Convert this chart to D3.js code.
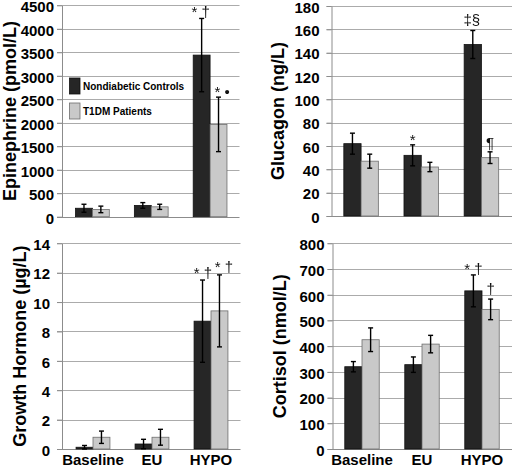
<!DOCTYPE html>
<html>
<head>
<meta charset="utf-8">
<script src="https://cdn.jsdelivr.net/npm/d3@7/dist/d3.min.js"></script>
<style>
  html, body { margin: 0; padding: 0; background: #fff; }
  svg { display: block; font-family: "Liberation Sans", Arial, sans-serif; }
  .marks { filter: grayscale(100%); }
</style>
</head>
<body>
<svg id="chart" width="512" height="467"></svg>
<script>
// ---------- data ----------
const categories = ["Baseline", "EU", "HYPO"];
const seriesNames = ["Nondiabetic Controls", "T1DM Patients"];

const epiControls = [180, 240, 3440];
const epiControlsErr = [85, 60, 780];
const epiT1dm = [155, 210, 1965];
const epiT1dmErr = [70, 55, 580];
const epiTicks = [0, 500, 1000, 1500, 2000, 2500, 3000, 3500, 4000, 4500];

const gluControls = [62, 52, 147];
const gluControlsErr = [9, 9, 12];
const gluT1dm = [47, 42, 50];
const gluT1dmErr = [6, 4, 5];
const gluTicks = [0, 20, 40, 60, 80, 100, 120, 140, 160, 180];

const ghControls = [0.12, 0.34, 8.7];
const ghControlsErr = [0.12, 0.32, 2.8];
const ghT1dm = [0.8, 0.8, 9.4];
const ghT1dmErr = [0.42, 0.54, 2.45];
const ghTicks = [0, 2, 4, 6, 8, 10, 12, 14];

const cortControls = [320, 328, 615];
const cortControlsErr = [20, 30, 62];
const cortT1dm = [425, 408, 543];
const cortT1dmErr = [46, 34, 40];
const cortTicks = [0, 100, 200, 300, 400, 500, 600, 700, 800];

// significance marks: [category, series index, text]
const epiMarks = [["HYPO", 0, "* \u2020"], ["HYPO", 1, "* \u2022"]];
const gluMarks = [["EU", 0, "*"], ["HYPO", 0, "\u2021\u00A7"], ["HYPO", 1, "\u00B6"]];
const ghMarks = [["HYPO", 0, "* \u2020"], ["HYPO", 1, "* \u2020"]];
const cortMarks = [["HYPO", 0, "* \u2020"], ["HYPO", 1, "\u2020"]];

// ---------- drawing ----------
const svg = d3.select("#chart");
const colors = ["#262626", "#c9c9c9"];
const strokes = ["#111111", "#6e6e6e"];

function panel(cfg) {
  const g = svg.append("g");
  const x = d3.scaleBand().domain(categories).range([cfg.x0, cfg.x1]);
  const y = d3.scaleLinear().domain([0, cfg.ticks[cfg.ticks.length - 1]]).range([cfg.yZero, cfg.yTop]);
  const bw = x.step() * 0.287;

  // gridlines
  g.selectAll("line.grid").data(cfg.ticks.filter(t => t > 0)).join("line")
    .attr("x1", cfg.axisX - 5).attr("x2", cfg.gridEnd)
    .attr("y1", d => Math.round(y(d)) + 0.5).attr("y2", d => Math.round(y(d)) + 0.5)
    .attr("stroke", "#ababab").attr("stroke-width", 1);

  // y axis with labels
  const ax = g.append("g").attr("transform", `translate(${cfg.axisX},0)`)
    .call(d3.axisLeft(y).tickValues(cfg.ticks).tickFormat(d3.format("d"))
      .tickSizeInner(5).tickSizeOuter(0).tickPadding(cfg.pad));
  ax.select(".domain").attr("stroke", "#8c8c8c");
  ax.selectAll(".tick line").attr("stroke", "#8c8c8c");
  ax.selectAll(".tick text").attr("fill", "#000").attr("font-size", 15).attr("font-weight", "bold")
    .attr("font-family", "Liberation Sans, Arial, sans-serif").attr("dy", "0.42em");

  // baseline
  g.append("line").attr("x1", cfg.axisX - 5).attr("x2", cfg.gridEnd)
    .attr("y1", Math.round(y(0)) + 0.5).attr("y2", Math.round(y(0)) + 0.5)
    .attr("stroke", "#8c8c8c");

  const series = [cfg.s0, cfg.s1];
  const errs = [cfg.e0, cfg.e1];
  series.forEach((vals, si) => {
    const cx = (c) => x(c) + x.bandwidth() / 2 + (si === 0 ? -bw : 0);
    g.selectAll(null).data(categories).join("rect")
      .attr("x", c => cx(c)).attr("width", bw)
      .attr("y", (c, i) => y(vals[i])).attr("height", (c, i) => y(0) - y(vals[i]))
      .attr("fill", colors[si]).attr("stroke", strokes[si]).attr("stroke-width", 0.8);
    // error bars
    categories.forEach((c, i) => {
      const mx = cx(c) + bw / 2;
      const top = y(vals[i] + errs[si][i]);
      const bot = y(Math.max(0, vals[i] - errs[si][i]));
      g.append("line").attr("x1", mx).attr("x2", mx).attr("y1", top).attr("y2", bot)
        .attr("stroke", "#000").attr("stroke-width", 1.4);
      [top, bot].forEach(yy => g.append("line").attr("x1", mx - 2.5).attr("x2", mx + 2.5)
        .attr("y1", yy).attr("y2", yy).attr("stroke", "#000").attr("stroke-width", 1.4));
    });
  });

  // marks
  const mg = g.append("g").attr("class", "marks");
  cfg.marks.forEach((m, k) => {
    const [c, si, txt] = m;
    const i = categories.indexOf(c);
    const vals = series[si];
    const mx = x(c) + x.bandwidth() / 2 + (si === 0 ? -bw / 2 : bw / 2);
    const off = cfg.markOff[k];
    mg.append("text")
      .attr("x", mx + off[0]).attr("y", y(vals[i] + errs[si][i]) + off[1])
      .attr("text-anchor", "middle").attr("font-size", 15).attr("fill", "#111")
      .text(txt);
  });

  // y title
  g.append("text")
    .attr("transform", `translate(${cfg.titleX},${(cfg.yZero + cfg.yTop) / 2}) rotate(-90)`)
    .attr("text-anchor", "middle").attr("font-size", 18).attr("font-weight", "bold")
    .text(cfg.title);

  if (cfg.showCats) {
    g.selectAll(null).data(categories).join("text")
      .attr("x", c => x(c) + x.bandwidth() / 2).attr("y", 464.5)
      .attr("text-anchor", "middle").attr("font-size", 15).attr("font-weight", "bold")
      .text(c => c);
  }
  return g;
}

panel({ x0: 63, x1: 239.5, axisX: 62, gridEnd: 239.5, yZero: 216.7, yTop: 5.3,
  ticks: epiTicks, pad: 3, title: "Epinephrine (pmol/L)", titleX: 15.5,
  s0: epiControls, e0: epiControlsErr, s1: epiT1dm, e1: epiT1dmErr,
  marks: epiMarks, markOff: [[-1, -1.5], [3.5, 0]], showCats: false });

panel({ x0: 331, x1: 511.5, axisX: 331.5, gridEnd: 512, yZero: 216, yTop: 6,
  ticks: gluTicks, pad: 7, title: "Glucagon (ng/L)", titleX: 284,
  s0: gluControls, e0: gluControlsErr, s1: gluT1dm, e1: gluT1dmErr,
  marks: gluMarks, markOff: [[0, 0], [-1, -6], [0, -3.5]], showCats: false });

panel({ x0: 63.5, x1: 240.5, axisX: 62, gridEnd: 240.5, yZero: 449, yTop: 243.3,
  ticks: ghTicks, pad: 7, title: "Growth Hormone (\u00B5g/L)", titleX: 25.5,
  s0: ghControls, e0: ghControlsErr, s1: ghT1dm, e1: ghT1dmErr,
  marks: ghMarks, markOff: [[0.5, -2.5], [4.5, -3]], showCats: true });

panel({ x0: 332, x1: 512, axisX: 332.5, gridEnd: 512, yZero: 449, yTop: 243.3,
  ticks: cortTicks, pad: 3, title: "Cortisol (nmol/L)", titleX: 286,
  s0: cortControls, e0: cortControlsErr, s1: cortT1dm, e1: cortT1dmErr,
  marks: cortMarks, markOff: [[0, -1], [0, -5]], showCats: true });

// legend (top-left panel)
const lg = svg.append("g");
seriesNames.forEach((name, i) => {
  lg.append("rect").attr("x", 69.5).attr("y", 78 + i * 25).attr("width", 10.5).attr("height", 16)
    .attr("fill", colors[i]).attr("stroke", strokes[i]).attr("stroke-width", 0.8);
  lg.append("text").attr("x", 83).attr("y", 86 + i * 25).attr("dy", "0.35em")
    .attr("font-size", 10).attr("font-weight", "bold").text(name);
});
</script>
</body>
</html>
